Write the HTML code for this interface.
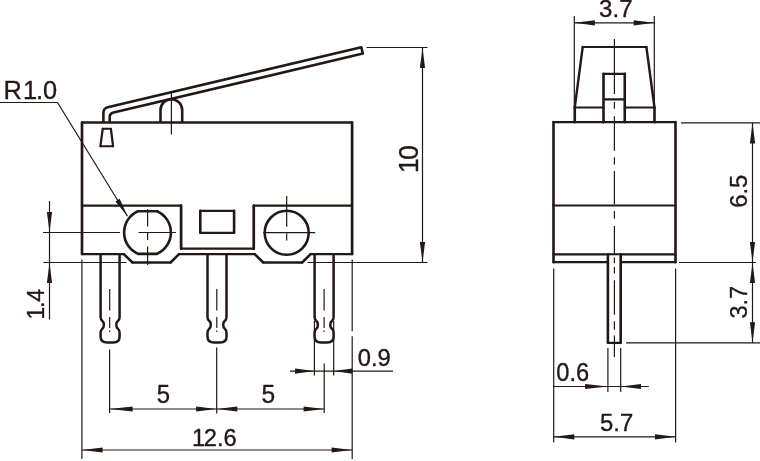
<!DOCTYPE html>
<html><head><meta charset="utf-8"><title>Dimensions</title>
<style>
html,body{margin:0;padding:0;background:#fff;}
body{width:760px;height:461px;overflow:hidden;}
svg{display:block;will-change:transform;font-family:"Liberation Sans",sans-serif;}
</style></head>
<body>
<svg width="760" height="461" viewBox="0 0 760 461" fill="none" stroke="#231815" stroke-linejoin="round" stroke-linecap="butt">
<rect x="0" y="0" width="760" height="461" fill="#fff" stroke="none"/>
<path d="M82 122.5L352.1 122.5 M352.1 254.1L310.6 254.1 M302.2 262.5L263.3 262.5 M254.7 254.1L179 254.1 M170.6 262.5L132.5 262.5 M123.75 254.1L82 254.1" stroke-width="2.30" stroke-linecap="round"/>
<path d="M82 205.7L82 122.5 M352.1 122.5L352.1 254.1 M82 254.1L82 205.7" stroke-width="2.70" stroke-linecap="round"/>
<path d="M310.6 254.1L302.2 262.5 M263.3 262.5L254.7 254.1 M179 254.1L170.6 262.5 M132.5 262.5L123.75 254.1" stroke-width="2.50" stroke-linecap="round"/>
<path d="M82 205.7L181.1 205.7 M181.1 248.7L253.75 248.7 M253.75 205.7L352.1 205.7" stroke-width="2.30" stroke-linecap="round"/>
<path d="M181.1 205.7L181.1 248.7 M253.75 248.7L253.75 205.7" stroke-width="2.70" stroke-linecap="round"/>
<path d="M200.3 210.8L234.1 210.8 M234.1 232.8L200.3 232.8" stroke-width="2.21" stroke-linecap="round"/>
<path d="M234.1 210.8L234.1 232.8 M200.3 232.8L200.3 210.8" stroke-width="2.60" stroke-linecap="round"/>
<path d="M137.81 211.2 L157.19 211.2 A23.4 23.4 0 0 1 156.97 253.9 L138.03 253.9 A23.4 23.4 0 0 1 137.81 211.2 Z" stroke-width="2.6" />
<circle cx="286.7" cy="232.8" r="22" stroke-width="2.6"/>
<path d="M100.6 254.1 V317 Q100.6 319.4 102.19999999999999 320.8 C104.5 322.7 104.5 327 102.19999999999999 328.9 Q100.6 330.3 100.6 332.8 V336.5 Q100.6 342.5 107.1 342.5 H113.1 Q119.6 342.5 119.6 336.5 V332.8 Q119.6 330.3 118.0 328.9 C115.69999999999999 327 115.69999999999999 322.7 118.0 320.8 Q119.6 319.4 119.6 317 V254.1" stroke-width="2.5" />
<line x1="109.7" y1="289" x2="109.7" y2="310.6" stroke-width="1.2" />
<line x1="109.7" y1="317" x2="109.7" y2="328" stroke-width="1.2" />
<line x1="109.7" y1="330.5" x2="109.7" y2="332" stroke-width="1.2" />
<path d="M207.5 254.1 V317 Q207.5 319.4 209.1 320.8 C211.4 322.7 211.4 327 209.1 328.9 Q207.5 330.3 207.5 332.8 V336.5 Q207.5 342.5 214.0 342.5 H220.0 Q226.5 342.5 226.5 336.5 V332.8 Q226.5 330.3 224.9 328.9 C222.6 327 222.6 322.7 224.9 320.8 Q226.5 319.4 226.5 317 V254.1" stroke-width="2.5" />
<line x1="216.8" y1="289" x2="216.8" y2="310.6" stroke-width="1.2" />
<line x1="216.8" y1="317" x2="216.8" y2="328" stroke-width="1.2" />
<line x1="216.8" y1="330.5" x2="216.8" y2="332" stroke-width="1.2" />
<path d="M314.6 254.1 V317 Q314.6 319.4 316.20000000000005 320.8 C318.5 322.7 318.5 327 316.20000000000005 328.9 Q314.6 330.3 314.6 332.8 V336.5 Q314.6 342.5 321.1 342.5 H327.1 Q333.6 342.5 333.6 336.5 V332.8 Q333.6 330.3 332.0 328.9 C329.70000000000005 327 329.70000000000005 322.7 332.0 320.8 Q333.6 319.4 333.6 317 V254.1" stroke-width="2.5" />
<line x1="324.1" y1="289" x2="324.1" y2="310.6" stroke-width="1.2" />
<line x1="324.1" y1="317" x2="324.1" y2="328" stroke-width="1.2" />
<line x1="324.1" y1="330.5" x2="324.1" y2="332" stroke-width="1.2" />
<path d="M160.5 122.5 V110.05 A10.85 10.85 0 0 1 182.2 110.05 V122.5" stroke-width="2.6" />
<path d="M103.4 122.5 V112.8 Q103.4 108.3 107.8 107.2 L361.3 47.3 L362.8 53.6 L113.5 112.6 Q109.7 113.5 109.7 117.3 V122.5" stroke-width="2.6" stroke-linejoin="round"/>
<path d="M102.75 128.75L110.9 128.75 M113.1 146.25L100.4 146.25" stroke-width="2.03" stroke-linecap="round"/>
<path d="M110.9 128.75L113.1 146.25 M100.4 146.25L102.75 128.75" stroke-width="2.21" stroke-linecap="round"/>
<line x1="171.4" y1="92.5" x2="171.4" y2="134.5" stroke-width="1.2" />
<text transform="translate(3.59 98.73) rotate(0) scale(0.9636 1)" font-size="26.34" fill="#231815" stroke="#231815" stroke-width="0.35">R<tspan dx="0.04em">1</tspan><tspan dx="-0.04em">.0</tspan></text>
<path d="M0 102.5 H57.5 L127.5 216.3" stroke-width="1.2" />
<path d="M127.50 216.30 L115.45 201.40 L117.58 200.10 L119.71 198.79 Z" fill="#231815" stroke="none"/>
<line x1="43" y1="232.5" x2="120" y2="232.5" stroke-width="1.2" />
<line x1="138.5" y1="232.5" x2="176" y2="232.5" stroke-width="1.2" />
<line x1="147.6" y1="209" x2="147.6" y2="226.5" stroke-width="1.2" />
<line x1="147.6" y1="233" x2="147.6" y2="240" stroke-width="1.2" />
<line x1="147.6" y1="246.5" x2="147.6" y2="265" stroke-width="1.2" />
<line x1="263.3" y1="232.6" x2="315.2" y2="232.6" stroke-width="1.2" />
<line x1="286.7" y1="196" x2="286.7" y2="226.8" stroke-width="1.2" />
<line x1="286.7" y1="233.6" x2="286.7" y2="240.6" stroke-width="1.2" />
<line x1="43.5" y1="262.5" x2="126.5" y2="262.5" stroke-width="1.2" />
<line x1="49.5" y1="201" x2="49.5" y2="319.5" stroke-width="1.2" />
<path d="M49.50 232.50 L46.90 211.90 L49.50 211.90 L52.10 211.90 Z" fill="#231815" stroke="none"/>
<path d="M49.50 262.50 L52.10 283.10 L49.50 283.10 L46.90 283.10 Z" fill="#231815" stroke="none"/>
<text transform="translate(43.83 320.82) rotate(-90) scale(0.9471 1)" font-size="24.16" fill="#231815" stroke="#231815" stroke-width="0.35"><tspan dx="0.055em">1</tspan><tspan dx="-0.055em">.4</tspan></text>
<line x1="81.9" y1="259.4" x2="81.9" y2="459" stroke-width="1.2" />
<line x1="352.2" y1="259.4" x2="352.2" y2="331.2" stroke-width="1.2" />
<line x1="352.2" y1="336.2" x2="352.2" y2="459" stroke-width="1.2" />
<line x1="82" y1="450" x2="352.2" y2="450" stroke-width="1.2" />
<path d="M82.00 450.00 L102.60 447.40 L102.60 450.00 L102.60 452.60 Z" fill="#231815" stroke="none"/>
<path d="M352.20 450.00 L331.60 452.60 L331.60 450.00 L331.60 447.40 Z" fill="#231815" stroke="none"/>
<text transform="translate(190.59 445.79) rotate(0) scale(0.9844 1)" font-size="24.05" fill="#231815" stroke="#231815" stroke-width="0.35"><tspan dx="0.055em">1</tspan><tspan dx="-0.055em">2.6</tspan></text>
<line x1="109.6" y1="349.4" x2="109.6" y2="413" stroke-width="1.2" />
<line x1="216.7" y1="347.5" x2="216.7" y2="413.5" stroke-width="1.2" />
<line x1="324.2" y1="363.5" x2="324.2" y2="413" stroke-width="1.2" />
<line x1="109.6" y1="409" x2="324.2" y2="409" stroke-width="1.2" />
<path d="M109.60 409.00 L132.60 406.40 L132.60 409.00 L132.60 411.60 Z" fill="#231815" stroke="none"/>
<path d="M216.70 409.00 L196.10 411.60 L196.10 409.00 L196.10 406.40 Z" fill="#231815" stroke="none"/>
<path d="M216.70 409.00 L237.30 406.40 L237.30 409.00 L237.30 411.60 Z" fill="#231815" stroke="none"/>
<path d="M324.20 409.00 L303.60 411.60 L303.60 409.00 L303.60 406.40 Z" fill="#231815" stroke="none"/>
<text transform="translate(156.72 403.18) rotate(0) scale(0.9586 1)" font-size="24.97" fill="#231815" stroke="#231815" stroke-width="0.35">5</text>
<text transform="translate(261.39 403.18) rotate(0) scale(0.9839 1)" font-size="24.97" fill="#231815" stroke="#231815" stroke-width="0.35">5</text>
<line x1="314.4" y1="321" x2="314.4" y2="375.5" stroke-width="1.2" />
<line x1="333.7" y1="321" x2="333.7" y2="375.5" stroke-width="1.2" />
<line x1="290" y1="371.1" x2="393" y2="371.1" stroke-width="1.2" />
<path d="M314.40 371.10 L295.10 373.70 L295.10 371.10 L295.10 368.50 Z" fill="#231815" stroke="none"/>
<path d="M333.70 371.10 L352.20 368.50 L352.20 371.10 L352.20 373.70 Z" fill="#231815" stroke="none"/>
<text transform="translate(357.75 366.09) rotate(0) scale(0.9702 1)" font-size="24.47" fill="#231815" stroke="#231815" stroke-width="0.35">0.9</text>
<line x1="366.5" y1="47.5" x2="427.5" y2="47.5" stroke-width="1.2" />
<line x1="307.5" y1="262.5" x2="427.5" y2="262.5" stroke-width="1.2" />
<line x1="422.5" y1="47.5" x2="422.5" y2="262.5" stroke-width="1.2" />
<path d="M422.50 47.50 L425.10 68.10 L422.50 68.10 L419.90 68.10 Z" fill="#231815" stroke="none"/>
<path d="M422.50 262.50 L419.90 241.90 L422.50 241.90 L425.10 241.90 Z" fill="#231815" stroke="none"/>
<text transform="translate(417.76 174.50) rotate(-90) scale(0.9720 1)" font-size="27.15" fill="#231815" stroke="#231815" stroke-width="0.35"><tspan dx="0.055em">1</tspan><tspan dx="-0.055em">0</tspan></text>
<path d="M553.5 122.1L675.5 122.1 M675.5 262.2L553.5 262.2" stroke-width="2.21" stroke-linecap="round"/>
<path d="M675.5 122.1L675.5 262.2 M553.5 262.2L553.5 122.1" stroke-width="2.60" stroke-linecap="round"/>
<path d="M553.5 205.5L675.5 205.5" stroke-width="2.21" stroke-linecap="round"/>
<path d="M553.5 254.4L675.5 254.4" stroke-width="2.21" stroke-linecap="round"/>
<path d="M582.7 47L646.4 47" stroke-width="2.21" stroke-linecap="round"/>
<path d="M574.75 122.1L574.75 107.5 M654.5 107.5L654.5 122.1" stroke-width="2.60" stroke-linecap="round"/>
<path d="M574.75 107.5L582.7 47 M646.4 47L654.5 107.5" stroke-width="2.40" stroke-linecap="round"/>
<path d="M574.75 107.5L603.5 107.5 M624.75 107.5L654.5 107.5" stroke-width="2.21" stroke-linecap="round"/>
<path d="M603.5 73.8L624.75 73.8 M603.5 99.4L624.75 99.4" stroke-width="2.21" stroke-linecap="round"/>
<path d="M603.5 122.1L603.5 73.8 M624.75 73.8L624.75 122.1" stroke-width="2.60" stroke-linecap="round"/>
<rect x="607.9" y="255.6" width="12.8" height="87.2" fill="#fff" stroke="none"/>
<path d="M607.9 342.8L620.7 342.8" stroke-width="2.21" stroke-linecap="round"/>
<path d="M607.9 254.4L607.9 342.8 M620.7 342.8L620.7 254.4" stroke-width="2.60" stroke-linecap="round"/>
<line x1="614.4" y1="39" x2="614.4" y2="94" stroke-width="1.2" />
<line x1="614.4" y1="101.9" x2="614.4" y2="108.75" stroke-width="1.2" />
<line x1="614.4" y1="116.25" x2="614.4" y2="150.7" stroke-width="1.2" />
<line x1="614.4" y1="157.2" x2="614.4" y2="164.6" stroke-width="1.2" />
<line x1="614.4" y1="171" x2="614.4" y2="204.4" stroke-width="1.2" />
<line x1="614.4" y1="211.1" x2="614.4" y2="218.8" stroke-width="1.2" />
<line x1="614.4" y1="226" x2="614.4" y2="254" stroke-width="1.2" />
<line x1="614.4" y1="257.4" x2="614.4" y2="263.2" stroke-width="1.2" />
<line x1="614.4" y1="267.1" x2="614.4" y2="273.6" stroke-width="1.2" />
<line x1="614.4" y1="280.2" x2="614.4" y2="314.8" stroke-width="1.2" />
<line x1="614.4" y1="321.3" x2="614.4" y2="329.7" stroke-width="1.2" />
<line x1="614.4" y1="335.6" x2="614.4" y2="357" stroke-width="1.2" />
<line x1="574.3" y1="16" x2="574.3" y2="107" stroke-width="1.2" />
<line x1="654.3" y1="16" x2="654.3" y2="107" stroke-width="1.2" />
<line x1="574.3" y1="22.8" x2="654.3" y2="22.8" stroke-width="1.2" />
<path d="M574.30 22.80 L594.90 20.20 L594.90 22.80 L594.90 25.40 Z" fill="#231815" stroke="none"/>
<path d="M654.30 22.80 L633.70 25.40 L633.70 22.80 L633.70 20.20 Z" fill="#231815" stroke="none"/>
<text transform="translate(599.06 17.09) rotate(0) scale(1.0134 1)" font-size="23.76" fill="#231815" stroke="#231815" stroke-width="0.35">3.7</text>
<line x1="681" y1="122.8" x2="760" y2="122.8" stroke-width="1.2" />
<line x1="679" y1="262.5" x2="756" y2="262.5" stroke-width="1.2" />
<line x1="626" y1="342.8" x2="760" y2="342.8" stroke-width="1.2" />
<line x1="752.5" y1="122.8" x2="752.5" y2="342.8" stroke-width="1.2" />
<path d="M752.50 122.80 L755.10 143.40 L752.50 143.40 L749.90 143.40 Z" fill="#231815" stroke="none"/>
<path d="M752.50 262.50 L749.90 241.90 L752.50 241.90 L755.10 241.90 Z" fill="#231815" stroke="none"/>
<path d="M752.50 262.50 L755.10 283.10 L752.50 283.10 L749.90 283.10 Z" fill="#231815" stroke="none"/>
<path d="M752.50 342.80 L749.90 322.20 L752.50 322.20 L755.10 322.20 Z" fill="#231815" stroke="none"/>
<text transform="translate(747.28 207.84) rotate(-90) scale(0.9638 1)" font-size="24.75" fill="#231815" stroke="#231815" stroke-width="0.35">6.5</text>
<text transform="translate(747.28 318.52) rotate(-90) scale(0.9512 1)" font-size="24.75" fill="#231815" stroke="#231815" stroke-width="0.35">3.7</text>
<line x1="553.7" y1="268.5" x2="553.7" y2="442.5" stroke-width="1.2" />
<line x1="675.6" y1="268.5" x2="675.6" y2="442.5" stroke-width="1.2" />
<line x1="553.7" y1="436.8" x2="675.6" y2="436.8" stroke-width="1.2" />
<path d="M553.70 436.80 L574.30 434.20 L574.30 436.80 L574.30 439.40 Z" fill="#231815" stroke="none"/>
<path d="M675.60 436.80 L655.00 439.40 L655.00 436.80 L655.00 434.20 Z" fill="#231815" stroke="none"/>
<text transform="translate(600.02 431.28) rotate(0) scale(0.9621 1)" font-size="24.83" fill="#231815" stroke="#231815" stroke-width="0.35">5.7</text>
<line x1="607.9" y1="348" x2="607.9" y2="392" stroke-width="1.2" />
<line x1="620.7" y1="348" x2="620.7" y2="392" stroke-width="1.2" />
<line x1="553.7" y1="386.5" x2="648.8" y2="386.5" stroke-width="1.2" />
<path d="M607.90 386.50 L585.10 388.90 L585.10 386.50 L585.10 384.10 Z" fill="#231815" stroke="none"/>
<path d="M620.70 386.50 L641.00 383.90 L641.00 386.50 L641.00 389.10 Z" fill="#231815" stroke="none"/>
<text transform="translate(556.25 380.58) rotate(0) scale(0.9405 1)" font-size="25.18" fill="#231815" stroke="#231815" stroke-width="0.35">0.6</text>
</svg>
</body></html>
